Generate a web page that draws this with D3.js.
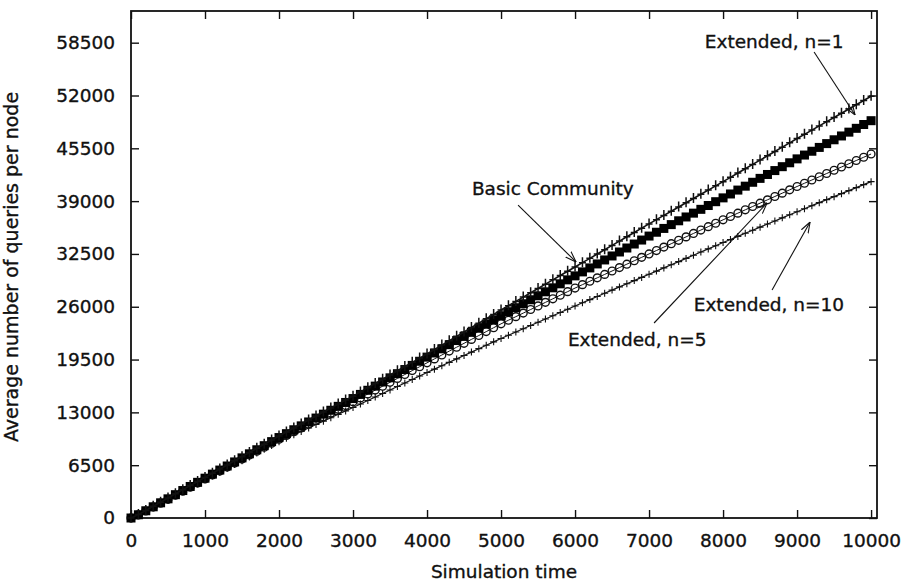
<!DOCTYPE html>
<html>
<head>
<meta charset="utf-8">
<script src="https://cdn.jsdelivr.net/npm/d3@7"></script>
<style>
  body { margin: 0; background: #fff; }
  svg { display: block; font-family: 'DejaVu Sans', sans-serif; }
</style>
</head>
<body>
<div id="chart"></div>
<script>
const times = [
  0, 100, 200, 300, 400, 500, 600, 700, 800, 900,
  1000, 1100, 1200, 1300, 1400, 1500, 1600, 1700, 1800, 1900,
  2000, 2100, 2200, 2300, 2400, 2500, 2600, 2700, 2800, 2900,
  3000, 3100, 3200, 3300, 3400, 3500, 3600, 3700, 3800, 3900,
  4000, 4100, 4200, 4300, 4400, 4500, 4600, 4700, 4800, 4900,
  5000, 5100, 5200, 5300, 5400, 5500, 5600, 5700, 5800, 5900,
  6000, 6100, 6200, 6300, 6400, 6500, 6600, 6700, 6800, 6900,
  7000, 7100, 7200, 7300, 7400, 7500, 7600, 7700, 7800, 7900,
  8000, 8100, 8200, 8300, 8400, 8500, 8600, 8700, 8800, 8900,
  9000, 9100, 9200, 9300, 9400, 9500, 9600, 9700, 9800, 9900,
  10000
];

// Extended, n=1 (top line, + markers)
const extendedN1 = [
  0, 420, 930, 1440, 1950, 2460, 2990, 3490, 3990, 4500,
  5000, 5510, 6020, 6520, 7040, 7550, 8060, 8570, 9080, 9590,
  10100, 10590, 11080, 11570, 12060, 12550, 13040, 13530, 14020, 14510,
  15000, 15520, 16040, 16560, 17080, 17600, 18120, 18640, 19160, 19680,
  20200, 20740, 21280, 21820, 22360, 22900, 23440, 23980, 24520, 25060,
  25600, 26130, 26660, 27190, 27720, 28250, 28780, 29310, 29840, 30370,
  30900, 31430, 31960, 32490, 33020, 33550, 34080, 34610, 35140, 35670,
  36200, 36720, 37240, 37760, 38280, 38800, 39320, 39840, 40360, 40880,
  41400, 41930, 42460, 42990, 43520, 44050, 44580, 45110, 45640, 46170,
  46700, 47220, 47740, 48260, 48780, 49300, 49820, 50340, 50860, 51380,
  51900
];

// Basic Community (filled squares, thick black band)
const basicCommunity = [
  0, 400, 890, 1380, 1870, 2360, 2870, 3380, 3880, 4390,
  4900, 5400, 5900, 6400, 6900, 7400, 7900, 8400, 8900, 9400,
  9900, 10380, 10860, 11340, 11820, 12300, 12780, 13260, 13740, 14220,
  14700, 15210, 15720, 16230, 16740, 17250, 17760, 18270, 18780, 19290,
  19800, 20310, 20820, 21330, 21840, 22350, 22860, 23370, 23880, 24390,
  24900, 25390, 25880, 26370, 26860, 27350, 27840, 28330, 28820, 29310,
  29800, 30290, 30780, 31270, 31760, 32250, 32740, 33230, 33720, 34210,
  34700, 35170, 35640, 36110, 36580, 37050, 37520, 37990, 38460, 38930,
  39400, 39880, 40360, 40840, 41320, 41800, 42280, 42760, 43240, 43720,
  44200, 44670, 45140, 45610, 46080, 46550, 47020, 47490, 47960, 48430,
  48900
];

// Extended, n=5 (open circles)
const extendedN5 = [
  0, 380, 860, 1340, 1820, 2300, 2800, 3300, 3800, 4300,
  4800, 5290, 5780, 6270, 6760, 7250, 7740, 8230, 8720, 9210,
  9700, 10160, 10620, 11080, 11540, 12000, 12460, 12920, 13380, 13840,
  14300, 14780, 15260, 15740, 16220, 16700, 17180, 17660, 18140, 18620,
  19100, 19580, 20060, 20540, 21020, 21500, 21980, 22460, 22940, 23420,
  23900, 24340, 24780, 25220, 25660, 26100, 26540, 26980, 27420, 27860,
  28300, 28720, 29140, 29560, 29980, 30400, 30820, 31240, 31660, 32080,
  32500, 32920, 33340, 33760, 34180, 34600, 35020, 35440, 35860, 36280,
  36700, 37110, 37520, 37930, 38340, 38750, 39160, 39570, 39980, 40390,
  40800, 41200, 41600, 42000, 42400, 42800, 43200, 43600, 44000, 44400,
  44800
];

// Extended, n=10 (small crosses)
const extendedN10 = [
  0, 370, 840, 1310, 1780, 2250, 2740, 3230, 3720, 4210,
  4700, 5170, 5640, 6110, 6580, 7050, 7520, 7990, 8460, 8930,
  9400, 9820, 10240, 10660, 11080, 11500, 11920, 12340, 12760, 13180,
  13600, 14030, 14460, 14890, 15320, 15750, 16180, 16610, 17040, 17470,
  17900, 18320, 18740, 19160, 19580, 20000, 20420, 20840, 21260, 21680,
  22100, 22500, 22900, 23300, 23700, 24100, 24500, 24900, 25300, 25700,
  26100, 26490, 26880, 27270, 27660, 28050, 28440, 28830, 29220, 29610,
  30000, 30390, 30780, 31170, 31560, 31950, 32340, 32730, 33120, 33510,
  33900, 34280, 34660, 35040, 35420, 35800, 36180, 36560, 36940, 37320,
  37700, 38070, 38440, 38810, 39180, 39550, 39920, 40290, 40660, 41030,
  41400
];

const xTicks = [0, 1000, 2000, 3000, 4000, 5000, 6000, 7000, 8000, 9000, 10000];
const yTicks = [0, 6500, 13000, 19500, 26000, 32500, 39000, 45500, 52000, 58500];

// annotation label positions and arrows, in data units
const labels = ['Extended, n=1', 'Basic Community', 'Extended, n=10', 'Extended, n=5'];
const labelAt = [[8690, 57850], [5700, 39750], [8620, 25480], [6840, 21170]];
const arrowFrom = [[9230, 57350], [5230, 38520], [8662, 28060], [7068, 24000]];
const arrowTo = [[9784, 49600], [6014, 31510], [9176, 36430], [8595, 38770]];

const W = 907, H = 583;
const margin = { top: 11, right: 30, bottom: 65, left: 131 };
const width = W - margin.left - margin.right;
const height = H - margin.top - margin.bottom;

const svg = d3.select('#chart')
  .append('svg')
  .attr('width', W)
  .attr('height', H);

svg.append('rect').attr('width', W).attr('height', H).attr('fill', '#fff');

const container = svg
  .append('g')
  .attr('transform', `translate(${margin.left},${margin.top})`);

const xScale = d3.scaleLinear().domain([0, 10080]).range([0, width]);
const yScale = d3.scaleLinear().domain([0, 62400]).range([height, 0]);

const fmt = d3.format('d');
const ink = '#111';

// scanned-print look: slightly heavier text
const styleText = (sel, size) => sel
  .attr('fill', ink)
  .attr('stroke', ink)
  .attr('stroke-width', 0.35)
  .style('font-family', "'DejaVu Sans', sans-serif")
  .style('font-size', size);

// axes with inward ticks
const xAxis = container.append('g')
  .attr('transform', `translate(0,${height})`)
  .call(d3.axisBottom(xScale).tickValues(xTicks).tickFormat(fmt).tickSizeInner(-8).tickSizeOuter(0).tickPadding(16));
const yAxis = container.append('g')
  .call(d3.axisLeft(yScale).tickValues(yTicks).tickFormat(fmt).tickSizeInner(-8).tickSizeOuter(0).tickPadding(16));
const xTop = container.append('g')
  .call(d3.axisTop(xScale).tickValues(xTicks).tickFormat('').tickSizeInner(-8).tickSizeOuter(0));
const yRight = container.append('g')
  .attr('transform', `translate(${width},0)`)
  .call(d3.axisRight(yScale).tickValues(yTicks).tickFormat('').tickSizeInner(-8).tickSizeOuter(0));

[xAxis, yAxis, xTop, yRight].forEach((g) => {
  g.select('.domain').remove();
  g.selectAll('line').attr('stroke', ink).attr('stroke-width', 1.4);
  styleText(g.selectAll('text'), '18.5px');
});

container.append('rect')
  .attr('width', width)
  .attr('height', height)
  .attr('fill', 'none')
  .attr('stroke', ink)
  .attr('stroke-width', 1.8);

// axis titles
styleText(svg.append('text')
  .attr('x', 504)
  .attr('y', 578)
  .attr('text-anchor', 'middle'), '18.5px')
  .text('Simulation time');

styleText(svg.append('text')
  .attr('transform', 'rotate(-90)')
  .attr('x', -267)
  .attr('y', 18)
  .attr('text-anchor', 'middle'), '19px')
  .text('Average number of queries per node');

const plot = container.append('g');

const line = (vals) => d3.line()
  .x((d, i) => xScale(times[i]))
  .y((d) => yScale(d))(vals);

// Extended, n=10: thin line with small crosses
plot.append('path')
  .attr('d', line(extendedN10))
  .attr('fill', 'none').attr('stroke', ink).attr('stroke-width', 1.2);
plot.selectAll('.n10').data(extendedN10).enter().append('path')
  .attr('class', 'n10')
  .attr('transform', (d, i) => `translate(${xScale(times[i])},${yScale(d)})`)
  .attr('d', 'M-3.5,0H3.5M0,-3.5V3.5')
  .attr('stroke', ink).attr('stroke-width', 1.1);

// Extended, n=5: open circles
plot.append('path')
  .attr('d', line(extendedN5))
  .attr('fill', 'none').attr('stroke', ink).attr('stroke-width', 1);
plot.selectAll('.n5').data(extendedN5).enter().append('circle')
  .attr('class', 'n5')
  .attr('cx', (d, i) => xScale(times[i]))
  .attr('cy', (d) => yScale(d))
  .attr('r', 3.9)
  .attr('fill', 'none').attr('stroke', ink).attr('stroke-width', 1.4);

// Basic Community: filled squares
plot.append('path')
  .attr('d', line(basicCommunity))
  .attr('fill', 'none').attr('stroke', '#000').attr('stroke-width', 3);
plot.selectAll('.basic').data(basicCommunity).enter().append('rect')
  .attr('class', 'basic')
  .attr('x', (d, i) => xScale(times[i]) - 4.5)
  .attr('y', (d) => yScale(d) - 4.5)
  .attr('width', 9).attr('height', 9)
  .attr('fill', '#000');

// Extended, n=1: line with + markers
plot.append('path')
  .attr('d', line(extendedN1))
  .attr('fill', 'none').attr('stroke', ink).attr('stroke-width', 1.6);
plot.selectAll('.n1').data(extendedN1).enter().append('path')
  .attr('class', 'n1')
  .attr('transform', (d, i) => `translate(${xScale(times[i])},${yScale(d)})`)
  .attr('d', 'M-3.5,0H3.5M0,-5.5V4.5')
  .attr('stroke', ink).attr('stroke-width', 1.5);

// annotations
svg.append('defs').append('marker')
  .attr('id', 'arrow')
  .attr('viewBox', '0 0 10 10')
  .attr('refX', 10).attr('refY', 5)
  .attr('markerWidth', 11).attr('markerHeight', 11)
  .attr('markerUnits', 'userSpaceOnUse')
  .attr('orient', 'auto')
  .append('path')
  .attr('d', 'M0,1.5L10,5L0,8.5')
  .attr('fill', 'none').attr('stroke', ink).attr('stroke-width', 1);

const notes = container.append('g');
labels.forEach((t, i) => {
  styleText(notes.append('text')
    .attr('x', xScale(labelAt[i][0]))
    .attr('y', yScale(labelAt[i][1]))
    .attr('text-anchor', 'middle'), '18.5px')
    .text(t);
  notes.append('line')
    .attr('x1', xScale(arrowFrom[i][0]))
    .attr('y1', yScale(arrowFrom[i][1]))
    .attr('x2', xScale(arrowTo[i][0]))
    .attr('y2', yScale(arrowTo[i][1]))
    .attr('stroke', ink)
    .attr('stroke-width', 1.1)
    .attr('marker-end', 'url(#arrow)');
});
</script>
</body>
</html>
